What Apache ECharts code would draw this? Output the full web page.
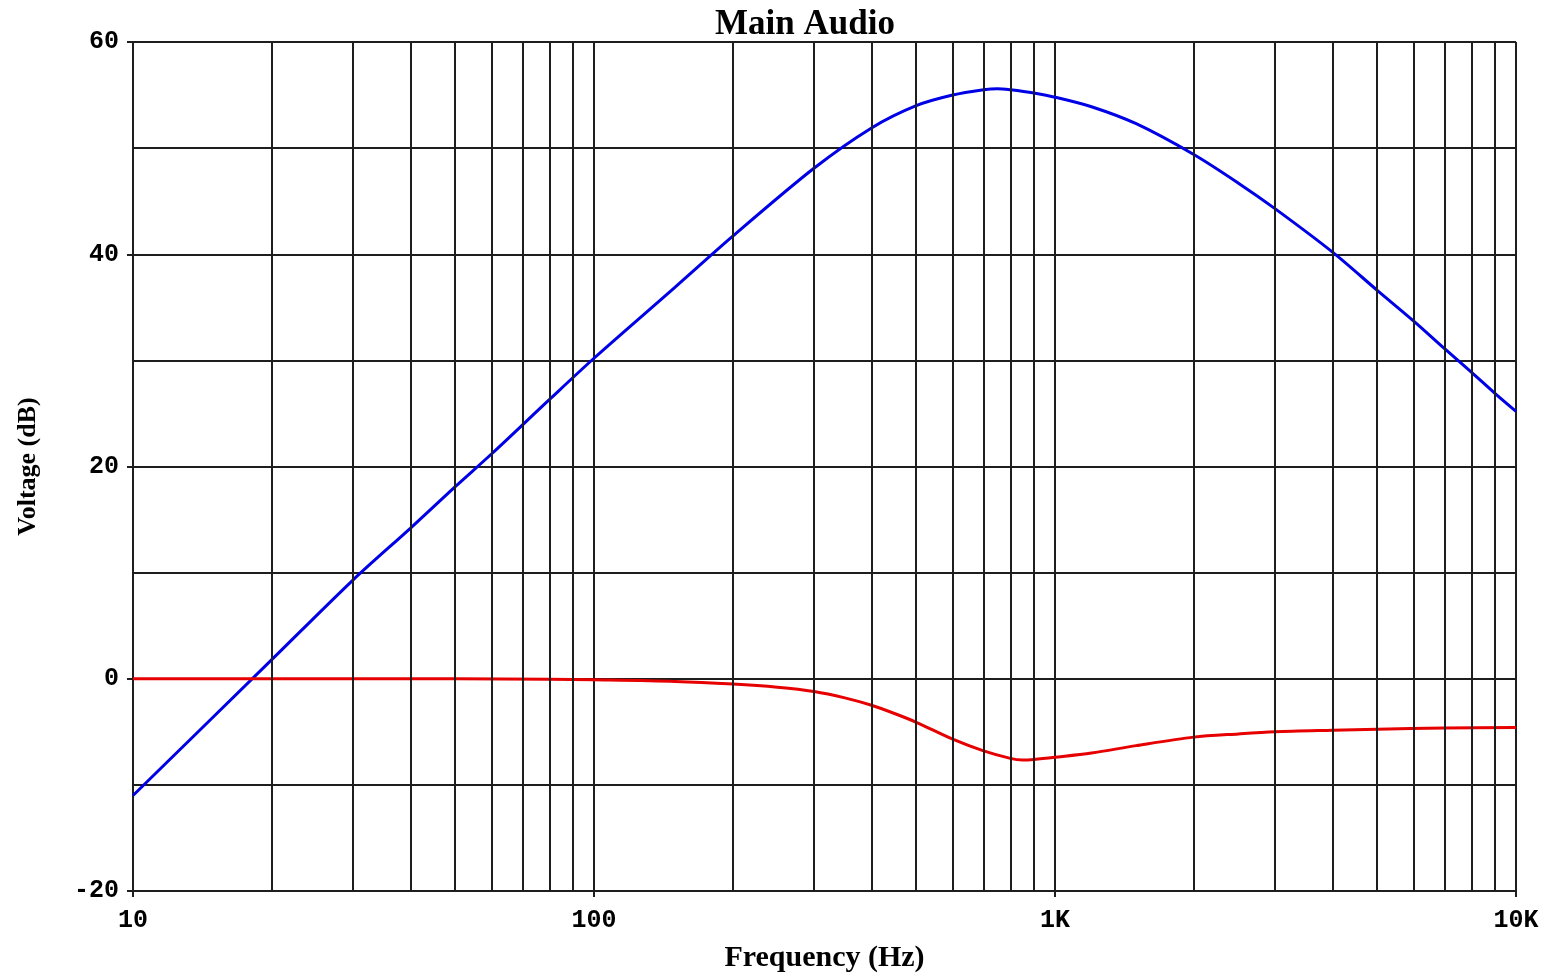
<!DOCTYPE html>
<html>
<head>
<meta charset="utf-8">
<script src="https://cdn.jsdelivr.net/npm/echarts@6/dist/echarts.min.js"></script>
<style>
  html, body { margin: 0; padding: 0; background: #ffffff; }
  #chart { width: 1551px; height: 979px; }
</style>
</head>
<body>
<div id="chart"></div>
<script>
// ---- Data ----
const titleText = 'Main Audio';
const xName = 'Frequency (Hz)';
const yName = 'Voltage (dB)';

const blueFreq = [10, 20, 30, 40, 50, 60, 80, 100, 150, 200, 300, 400, 500, 600, 700, 750, 800, 900,
                  1000, 1200, 1500, 2000, 2500, 3000, 4000, 5000, 6000, 7000, 8000, 9000, 10000];
const blueDb   = [-11, 1.8, 9.3, 14.2, 18.1, 21.2, 26.3, 30.2, 36.9, 41.7, 48.1, 51.9, 54.0, 55.0, 55.5, 55.6, 55.5, 55.2,
                  54.8, 53.9, 52.3, 49.4, 46.7, 44.3, 40.2, 36.6, 33.7, 31.1, 28.9, 26.9, 25.2];

const redFreq = [10, 50, 80, 100, 150, 200, 250, 300, 350, 400, 450, 500, 600, 700, 800, 850, 900,
                 1000, 1200, 1500, 2000, 2500, 3000, 4000, 5000, 7000, 10000];
const redDb   = [0, 0, -0.05, -0.1, -0.25, -0.5, -0.8, -1.2, -1.8, -2.5, -3.3, -4.1, -5.7, -6.8, -7.5, -7.65, -7.6,
                 -7.4, -7.0, -6.3, -5.5, -5.2, -5.0, -4.85, -4.75, -4.65, -4.6];

// minor (non-decade) vertical gridlines of the log frequency axis
const minorFreqGrid = [20, 30, 40, 50, 60, 70, 80, 90,
                       200, 300, 400, 500, 600, 700, 800, 900,
                       2000, 3000, 4000, 5000, 6000, 7000, 8000, 9000];

const xMin = 10, xMax = 10000;
const yMin = -20, yMax = 60, yLabelStep = 20;

// ---- Chart ----
const gridColor = '#1e1e1e';
const monoFont = '"Liberation Mono", "DejaVu Sans Mono", monospace';
const serifFont = '"Liberation Serif", "DejaVu Serif", serif';

const chart = echarts.init(document.getElementById('chart'), null, { renderer: 'canvas' });

const toPairs = (xs, ys) => xs.map((x, i) => [x, ys[i]]);

chart.setOption({
  backgroundColor: '#ffffff',
  animation: false,
  title: {
    text: titleText,
    left: 800,
    textAlign: 'center',
    top: 2,
    textStyle: { fontFamily: serifFont, fontWeight: 'bold', fontSize: 35, color: '#000' }
  },
  grid: { left: 133, right: 35, top: 42, bottom: 88 },
  xAxis: {
    type: 'log',
    logBase: 10,
    min: xMin,
    max: xMax,
    name: xName,
    nameLocation: 'middle',
    nameGap: 52,
    nameTextStyle: { fontFamily: serifFont, fontWeight: 'bold', fontSize: 30, color: '#000' },
    axisLine: { show: true, onZero: false, lineStyle: { color: gridColor, width: 2 } },
    axisTick: { show: true, inside: false, length: 6, lineStyle: { color: gridColor, width: 2 } },
    axisLabel: {
      margin: 17,
      fontFamily: monoFont, fontWeight: 'bold', fontSize: 25, color: '#000',
      formatter: function (v) {
        const r = Math.round(v);
        return r >= 1000 ? (r / 1000) + 'K' : String(r);
      }
    },
    splitLine: { show: true, lineStyle: { color: gridColor, width: 2 } }
  },
  yAxis: {
    type: 'value',
    min: yMin,
    max: yMax,
    interval: yLabelStep,
    name: yName,
    nameLocation: 'middle',
    nameGap: 92,
    nameRotate: 90,
    nameTextStyle: { fontFamily: serifFont, fontWeight: 'bold', fontSize: 26, color: '#000' },
    axisLine: { show: true, lineStyle: { color: gridColor, width: 2 } },
    axisTick: { show: true, inside: false, length: 6, lineStyle: { color: gridColor, width: 2 } },
    axisLabel: {
      margin: 14,
      fontFamily: monoFont, fontWeight: 'bold', fontSize: 25, color: '#000'
    },
    splitLine: { show: true, lineStyle: { color: gridColor, width: 2 } },
    minorTick: { show: false, splitNumber: 2 },
    minorSplitLine: { show: true, lineStyle: { color: gridColor, width: 2 } }
  },
  series: [
    {
      name: 'grid',
      type: 'line',
      data: [],
      silent: true,
      z: 1,
      markLine: {
        silent: true,
        symbol: ['none', 'none'],
        label: { show: false },
        animation: false,
        lineStyle: { color: gridColor, width: 2, type: 'solid' },
        emphasis: { disabled: true },
        data: minorFreqGrid.map(f => ({ xAxis: f }))
      }
    },
    {
      name: 'Blue',
      type: 'line',
      data: toPairs(blueFreq, blueDb),
      smooth: 0.3,
      showSymbol: false,
      z: 3,
      lineStyle: { color: '#0000e6', width: 3 }
    },
    {
      name: 'Red',
      type: 'line',
      data: toPairs(redFreq, redDb),
      smooth: 0.3,
      showSymbol: false,
      z: 3,
      lineStyle: { color: '#e60000', width: 3 }
    }
  ]
});
</script>
</body>
</html>
